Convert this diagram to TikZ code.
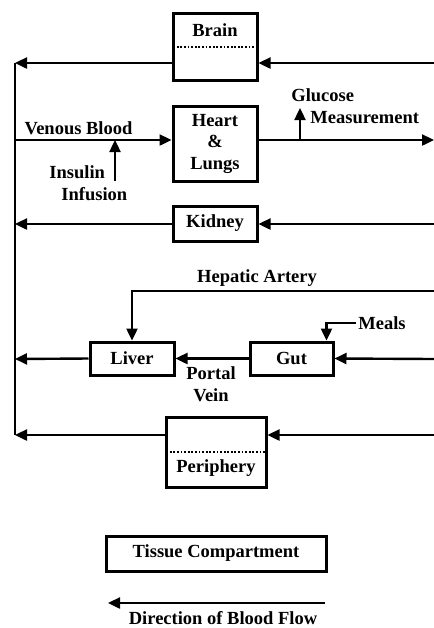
\documentclass[tikz,border=0pt]{standalone}
\usepackage{fontspec}
\setmainfont{Liberation Serif}
\usepackage{tikz}
\usetikzlibrary{arrows.meta,positioning,calc}

\begin{document}
\begin{tikzpicture}[
    x=0.5pt, y=-0.5pt,
    font=\bfseries\fontsize{9.25}{10.75}\selectfont,
    box/.style={rectangle, draw, line width=1.5pt, minimum width=42pt, inner sep=0pt, align=center},
    arrow/.style={draw, line width=1.2pt, -{Triangle[length=6pt,width=5.5pt]}},
    split/.style={draw, line width=1pt, dash pattern=on 0.9pt off 0.9pt},
    lbl/.style={inner sep=1pt, align=center}
]
\useasboundingbox (0,0) rectangle (434,628);

\node [box, minimum height=33.5pt] (brain) at (215,46.5) {};
\node [lbl] (brainlbl) at (215,30) {Brain};
\node [box, minimum height=37.5pt] (heart) at (215,143.5) {Heart\\\&\\Lungs};
\node [box, minimum height=17.5pt] (kidney) at (215,223.5) {Kidney};
\node [box, minimum height=16.5pt] (liver) at (132,358.5) {Liver};
\node [box, minimum width=41.5pt, minimum height=16.5pt] (gut) at (291.5,358.5) {Gut};
\node [box, minimum width=50pt, minimum height=35pt] (periphery) at (216,452) {};
\node [lbl] (periphlbl) at (216,468) {Periphery};
\node [box, minimum width=110pt, minimum height=17.5pt] (tissue) at (216,553.5) {Tissue Compartment};

\node [lbl] (venous) at (78.5,128) {Venous Blood};
\node [lbl, align=left, anchor=west] (insulin) at (47,183) {Insulin\\\hspace{6pt}Infusion};
\node [lbl, align=left, anchor=west] (glucose) at (289,106) {Glucose\\\hspace{9.5pt}Measurement};
\node [lbl] (hepatic) at (257,278) {Hepatic Artery};
\node [lbl, anchor=west] (meals) at (356,323) {Meals};
\node [lbl] (portal) at (211,384) {Portal\\Vein};
\node [lbl] (flowlbl) at (223,618) {Direction of Blood Flow};

\coordinate (ltop) at (15,63);
\coordinate (lbot) at (15,435);
\coordinate (rbrain) at (434,63);
\coordinate (vin) at (15,140);
\coordinate (rheart) at (434,140);
\coordinate (ibase) at (115,181);
\coordinate (itip) at (115,140);
\coordinate (gbase) at (300,140);
\coordinate (gtip) at (300,108);
\coordinate (lkid) at (15,224);
\coordinate (rkid) at (434,224);
\coordinate (rhep) at (434,291);
\coordinate (lliv) at (15,359);
\coordinate (rgut) at (434,359);
\coordinate (rper) at (434,435);
\coordinate (kfrom) at (325,603);
\coordinate (kto) at (108,603);

\draw [line width=1.2pt] (ltop) -- (lbot);
\draw [split] ([xshift=0.8pt]brain.west) -- ([xshift=-0.8pt]brain.east);
\draw [split] ([xshift=0.8pt]periphery.west) -- ([xshift=-0.8pt]periphery.east);

\draw [arrow] (rbrain) -- (brain.east |- rbrain);
\draw [arrow] (brain.west |- ltop) -- (ltop);
\draw [arrow] (vin) -- (heart.west |- vin);
\draw [arrow] (heart.east |- rheart) -- (rheart);
\draw [arrow] (ibase) -- (itip);
\draw [arrow] (gbase) -- (gtip);
\draw [arrow] (rkid) -- (kidney.east |- rkid);
\draw [arrow] (kidney.west |- lkid) -- (lkid);
\draw [arrow] (rhep) -| (liver.north);
\draw [arrow] (meals.west) -| ([xshift=-4pt]gut.north east);
\draw [arrow] (rgut) -- (gut.east);
\draw [arrow] (gut.west) -- (liver.east);
\draw [arrow] (liver.west) -- (lliv);
\draw [arrow] (rper) -- (periphery.east |- rper);
\draw [arrow] (periphery.west |- lbot) -- (lbot);
\draw [arrow] (kfrom) -- (kto);

\end{tikzpicture}
\end{document}
